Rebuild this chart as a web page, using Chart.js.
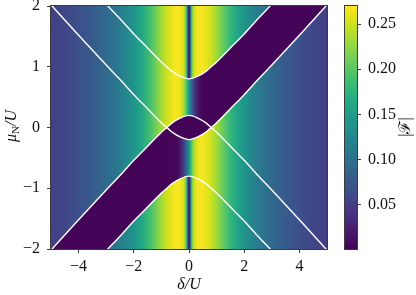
<!DOCTYPE html>
<html>
<head>
<meta charset="utf-8">
<script src="https://cdn.jsdelivr.net/npm/chart.js@4.4.1/dist/chart.umd.min.js"></script>
<style>
  body { margin: 0; background: #fff; }
  #wrap { position: relative; width: 416px; height: 295px; }
  #main { position: absolute; left: 0; top: 0; }
  #cbar { position: absolute; left: 335px; top: 0; }
</style>
</head>
<body>
<div id="wrap">
  <canvas id="main" width="416" height="295"></canvas>
  <canvas id="cbar" width="81" height="295"></canvas>
</div>
<script>
// axes
const deltaTicks = [-4, -2, 0, 2, 4];
const muTicks = [-2, -1, 0, 1, 2];
const deltaRange = [-5, 5];
const muRange = [-2, 2];

// colour bar
const cbMin = 0.001;
const cbMax = 0.27;
const cbTicks = [0.05, 0.10, 0.15, 0.20, 0.25];

// white level lines
const curveDelta = [-5, -4, -3, -2.5, -2, -1.5, -1, -0.8, -0.6, -0.3, 0, 0.3, 0.6, 0.8, 1, 1.5, 2, 2.5, 3, 4, 5];
const upperLevel = [3.02, 2.52, 2.03, 1.79, 1.54, 1.31, 1.08, 1.00, 0.92, 0.84, 0.80, 0.84, 0.92, 1.00, 1.08, 1.31, 1.54, 1.79, 2.03, 2.52, 3.02];
const eyeTop = [-2.02, -1.52, -1.03, -0.79, -0.54, -0.31, -0.08, 0.00, 0.08, 0.16, 0.20, 0.16, 0.08, 0.00, -0.08, -0.31, -0.54, -0.79, -1.03, -1.52, -2.02];
const eyeBottom = [2.02, 1.52, 1.03, 0.79, 0.54, 0.31, 0.08, 0.00, -0.08, -0.16, -0.20, -0.16, -0.08, 0.00, 0.08, 0.31, 0.54, 0.79, 1.03, 1.52, 2.02];
const lowerLevel = [-3.02, -2.52, -2.03, -1.79, -1.54, -1.31, -1.08, -1.00, -0.92, -0.84, -0.80, -0.84, -0.92, -1.00, -1.08, -1.31, -1.54, -1.79, -2.03, -2.52, -3.02];

// |F| along delta in each region
const fieldDelta = [-5, -4.5, -4, -3.5, -3, -2.5, -2, -1.75, -1.5, -1.25, -1, -0.8, -0.6, -0.5, -0.4, -0.3, -0.2, -0.15, -0.1, -0.05, 0,
                    0.05, 0.1, 0.15, 0.2, 0.3, 0.4, 0.5, 0.6, 0.8, 1, 1.25, 1.5, 1.75, 2, 2.5, 3, 3.5, 4, 4.5, 5];
const fieldOutside = [0.050, 0.057, 0.066, 0.077, 0.092, 0.112, 0.140, 0.158, 0.180, 0.205, 0.232, 0.250, 0.262, 0.267, 0.268, 0.265, 0.252, 0.235, 0.195, 0.095, 0.004,
                      0.095, 0.195, 0.235, 0.252, 0.265, 0.268, 0.267, 0.262, 0.250, 0.232, 0.205, 0.180, 0.158, 0.140, 0.112, 0.092, 0.077, 0.066, 0.057, 0.050];
const fieldUpperBand = [0.050, 0.057, 0.066, 0.077, 0.092, 0.112, 0.140, 0.158, 0.180, 0.205, 0.232, 0.250, 0.262, 0.267, 0.266, 0.258, 0.238, 0.222, 0.200, 0.172, 0.140,
                        0.112, 0.086, 0.064, 0.046, 0.022, 0.010, 0.005, 0.003, 0.003, 0.003, 0.003, 0.003, 0.003, 0.003, 0.003, 0.003, 0.003, 0.003, 0.003, 0.003];
const fieldLowerBand = [0.003, 0.003, 0.003, 0.003, 0.003, 0.003, 0.003, 0.003, 0.003, 0.003, 0.003, 0.003, 0.003, 0.005, 0.010, 0.022, 0.046, 0.064, 0.086, 0.112, 0.140,
                        0.172, 0.200, 0.222, 0.238, 0.258, 0.266, 0.267, 0.262, 0.250, 0.232, 0.205, 0.180, 0.158, 0.140, 0.112, 0.092, 0.077, 0.066, 0.057, 0.050];
const eyeInterior = 0.003;

const FONT = "'Liberation Serif', 'DejaVu Serif', serif";
const INK = '#111';
const SPINE = '#3c3c3c';

const viridisStops = ['#440154', '#471365', '#482475', '#463480', '#414487', '#3b528b', '#355f8d', '#2f6c8e', '#2a788e', '#25848e', '#21918c',
                      '#1e9c89', '#22a884', '#2fb47c', '#44bf70', '#5ec962', '#7ad151', '#9bd93c', '#bddf26', '#dfe318', '#fde725'];

function hexRgb(h) {
  return [parseInt(h.slice(1, 3), 16), parseInt(h.slice(3, 5), 16), parseInt(h.slice(5, 7), 16)];
}

function viridis(v) {
  let t = (v - cbMin) / (cbMax - cbMin);
  t = Math.max(0, Math.min(1, t)) * (viridisStops.length - 1);
  const i = Math.min(Math.floor(t), viridisStops.length - 2);
  const f = t - i;
  const a = hexRgb(viridisStops[i]), b = hexRgb(viridisStops[i + 1]);
  const c = a.map((x, k) => Math.round(x + (b[k] - x) * f));
  return `rgb(${c[0]},${c[1]},${c[2]})`;
}

const minus = (v) => String(v).replace('-', '\u2212');
const toPoints = (ys) => curveDelta.map((x, i) => ({ x: x, y: ys[i] }));

const lineStyle = { borderColor: '#ffffff', borderWidth: 1.4, pointRadius: 0, fill: false,
                    cubicInterpolationMode: 'monotone', capBezierPoints: false };
const fillStyle = { borderColor: 'rgba(0,0,0,0)', borderWidth: 1, pointRadius: 0,
                    cubicInterpolationMode: 'monotone', capBezierPoints: false };

const mainPlugin = {
  id: 'field',
  beforeDatasetsDraw(chart) {
    if (!chart.$field) return;
    const { ctx, chartArea: a } = chart;
    ctx.save();
    ctx.fillStyle = chart.$field;
    ctx.fillRect(a.left, a.top, a.right - a.left, a.bottom - a.top);
    ctx.restore();
  },
  afterDraw(chart) {
    const { ctx, chartArea: a } = chart;
    ctx.save();
    ctx.strokeStyle = SPINE;
    ctx.lineWidth = 1;
    ctx.strokeRect(a.left - 0.5, a.top - 0.5, a.right - a.left + 1, a.bottom - a.top + 1);

    ctx.fillStyle = INK;
    // x title
    ctx.font = `italic 16px ${FONT}`;
    ctx.textAlign = 'center';
    ctx.textBaseline = 'alphabetic';
    ctx.fillText('\u03b4/U', (a.left + a.right) / 2, 289);

    // y title  mu_N / U
    ctx.translate(11, 126);
    ctx.rotate(-Math.PI / 2);
    ctx.textAlign = 'left';
    const big = `italic 16px ${FONT}`, small = `11px ${FONT}`;
    ctx.font = big;
    const w1 = ctx.measureText('\u03bc').width, w3 = ctx.measureText('/U').width;
    ctx.font = small;
    const w2 = ctx.measureText('N').width;
    let x = -(w1 + w2 + w3) / 2;
    ctx.font = big; ctx.fillText('\u03bc', x, 5); x += w1;
    ctx.font = small; ctx.fillText('N', x, 8); x += w2;
    ctx.font = big; ctx.fillText('/U', x, 5);
    ctx.restore();
  }
};

const tickFont = { family: FONT, size: 16 };

const chart = new Chart(document.getElementById('main'), {
  type: 'line',
  data: {
    datasets: [
      { label: 'upper', data: toPoints(upperLevel), ...lineStyle },
      { label: 'eye top', data: toPoints(eyeTop), ...lineStyle },
      { label: 'eye bottom', data: toPoints(eyeBottom), ...lineStyle },
      { label: 'lower', data: toPoints(lowerLevel), ...lineStyle },
      { label: 'eye fill', data: toPoints(eyeTop), ...fillStyle, fill: { target: 2 } },
      { label: 'lower band', data: toPoints(lowerLevel), ...fillStyle, fill: { target: 2 } },
      { label: 'upper band', data: toPoints(upperLevel), ...fillStyle, fill: { target: 1 } }
    ]
  },
  options: {
    responsive: false,
    animation: false,
    events: [],
    layout: { padding: { left: 0, top: 6, right: 89, bottom: 0 } },
    plugins: { legend: { display: false }, tooltip: { enabled: false } },
    scales: {
      x: {
        type: 'linear', min: deltaRange[0], max: deltaRange[1],
        afterBuildTicks: (a) => { a.ticks = deltaTicks.map((value) => ({ value })); },
        afterFit: (a) => { a.height = 46; a.paddingLeft = 0; a.paddingRight = 0; },
        ticks: { font: tickFont, color: INK, padding: 4, maxRotation: 0, autoSkip: false, callback: (v) => minus(v) },
        grid: { drawOnChartArea: false, tickLength: 4, color: SPINE },
        border: { display: false }
      },
      y: {
        type: 'linear', min: muRange[0], max: muRange[1],
        afterBuildTicks: (a) => { a.ticks = muTicks.map((value) => ({ value })); },
        afterFit: (a) => { a.width = 51; a.paddingTop = 0; a.paddingBottom = 0; },
        ticks: { font: tickFont, color: INK, padding: 7, autoSkip: false, callback: (v) => minus(v) },
        grid: { drawOnChartArea: false, tickLength: 4, color: SPINE },
        border: { display: false }
      }
    }
  },
  plugins: [mainPlugin]
});

function fieldGradient(values) {
  const xs = chart.scales.x;
  const x0 = xs.getPixelForValue(fieldDelta[0]);
  const x1 = xs.getPixelForValue(fieldDelta[fieldDelta.length - 1]);
  const g = chart.ctx.createLinearGradient(x0, 0, x1, 0);
  fieldDelta.forEach((d, i) => g.addColorStop((xs.getPixelForValue(d) - x0) / (x1 - x0), viridis(values[i])));
  return g;
}

const gOutside = fieldGradient(fieldOutside);
chart.$field = gOutside;
chart.data.datasets[4].fill = { target: 2, above: viridis(eyeInterior), below: gOutside };
chart.data.datasets[5].backgroundColor = fieldGradient(fieldLowerBand);
chart.data.datasets[6].backgroundColor = fieldGradient(fieldUpperBand);
chart.update('none');

// colour bar
function barGradient(context) {
  const c = context.chart;
  if (!c.chartArea || !c.scales.y) return viridisStops[10];
  const ys = c.scales.y;
  const g = c.ctx.createLinearGradient(0, ys.getPixelForValue(cbMin), 0, ys.getPixelForValue(cbMax));
  viridisStops.forEach((col, i) => g.addColorStop(i / (viridisStops.length - 1), col));
  return g;
}

const cbPlugin = {
  id: 'cbFrame',
  afterDraw(c) {
    const { ctx, chartArea: a } = c;
    ctx.save();
    ctx.strokeStyle = SPINE;
    ctx.lineWidth = 1;
    ctx.strokeRect(a.left - 0.5, a.top - 0.5, a.right - a.left + 1, a.bottom - a.top + 1);
    ctx.fillStyle = INK;
    ctx.translate(71, 127);
    ctx.rotate(-Math.PI / 2);
    ctx.font = `16px ${FONT}`;
    ctx.textAlign = 'center';
    ctx.textBaseline = 'middle';
    ctx.fillText('|\u2131|', 0, 0);
    ctx.restore();
  }
};

new Chart(document.getElementById('cbar'), {
  type: 'bar',
  data: {
    labels: [''],
    datasets: [{ data: [[cbMin, cbMax]], backgroundColor: barGradient, borderWidth: 0, borderSkipped: false,
                 barPercentage: 1, categoryPercentage: 1 }]
  },
  options: {
    responsive: false,
    animation: false,
    events: [],
    layout: { padding: { left: 10, top: 6, right: 0, bottom: 46 } },
    plugins: { legend: { display: false }, tooltip: { enabled: false } },
    scales: {
      x: { display: false },
      y: {
        position: 'right', min: cbMin, max: cbMax,
        afterBuildTicks: (a) => { a.ticks = cbTicks.map((value) => ({ value })); },
        afterFit: (a) => { a.width = 59; a.paddingTop = 0; a.paddingBottom = 0; },
        ticks: { font: tickFont, color: INK, padding: 7, autoSkip: false, callback: (v) => v.toFixed(2) },
        grid: { drawOnChartArea: false, tickLength: 4, color: SPINE },
        border: { display: false }
      }
    }
  },
  plugins: [cbPlugin]
});
</script>
</body>
</html>
